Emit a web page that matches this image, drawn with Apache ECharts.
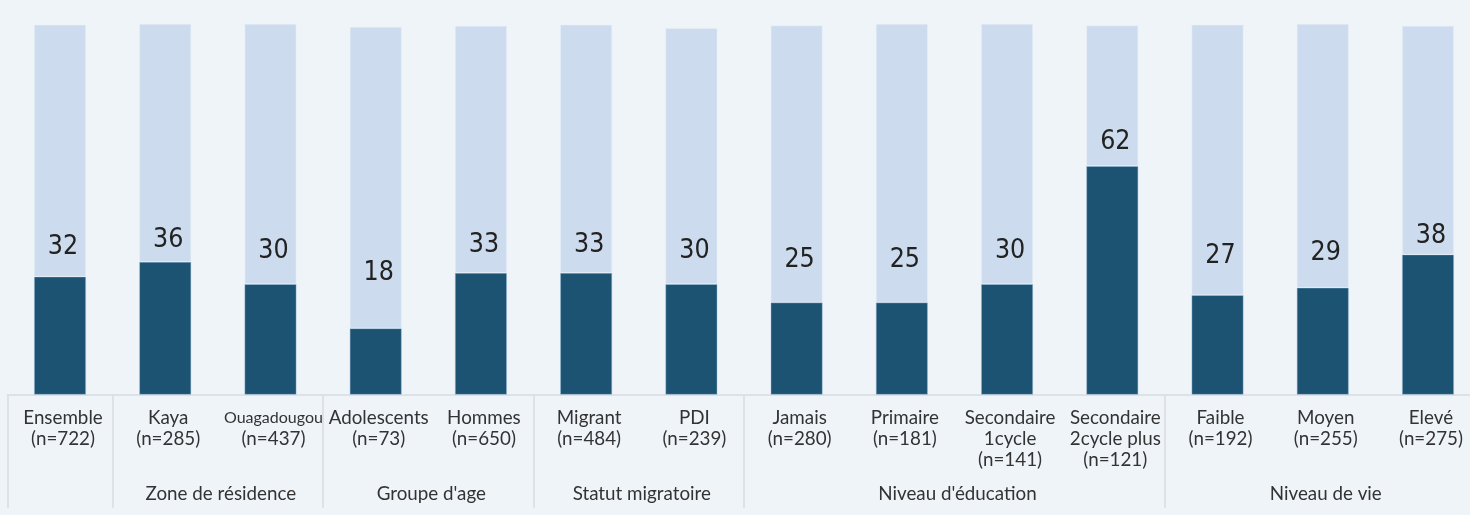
<!DOCTYPE html>
<html>
<head>
<meta charset="utf-8">
<script src="https://cdn.jsdelivr.net/npm/echarts@6/dist/echarts.min.js"></script>
<style>
  html, body { margin: 0; padding: 0; background: #eff4f9; }
  #main { width: 1470px; height: 515px; }
</style>
</head>
<body>
<div id="main"></div>
<script>
// categories, one per bar
var categories = ["Ensemble", "Kaya", "Ouagadougou", "Adolescents", "Hommes", "Migrant", "PDI",
  "Jamais", "Primaire", "Secondaire\n1cycle", "Secondaire\n2cycle plus", "Faible", "Moyen", "Elevé"];
var sampleSizes = [722, 285, 437, 73, 650, 484, 239, 280, 181, 141, 121, 192, 255, 275];
// groups below the categories (name, how many categories)
var groupNames = ["", "Zone de résidence", "Groupe d'age", "Statut migratoire", "Niveau d'éducation", "Niveau de vie"];
var groupSizes = [1, 2, 2, 2, 4, 3];
// % (dark) and remainder (light)
var percentValues = [32, 36, 30, 18, 33, 33, 30, 25, 25, 30, 62, 27, 29, 38];
var restValues = [68.3, 64.5, 70.5, 81.7, 67, 67.3, 69.4, 75.1, 75.5, 70.5, 38.1, 73.3, 71.5, 62];

// group boundaries and centres in category units
var groupEdges = [0];
var groupCentres = [];
groupSizes.forEach(function (n, i) {
  var start = groupEdges[groupEdges.length - 1];
  groupEdges.push(start + n);
  groupCentres.push(start + n / 2);
});

// shrink a category name when it is too wide for its slot
var ctx = document.createElement("canvas").getContext("2d");
ctx.font = "18.8px Lato";
function catLabel(value, idx) {
  var txt = value;
  if (value.indexOf("\n") < 0 && ctx.measureText(value).width > 104) {
    txt = "{s|" + value + "}";
  }
  return txt + "\n(n=" + sampleSizes[idx] + ")";
}

var numFont = "'Liberation Sans Narrow', 'DejaVu Sans Condensed', Roboto, sans-serif";

var myChart = echarts.init(document.getElementById("main"));
var option = {
  animation: false,
  backgroundColor: "#eff4f9",
  grid: {
    left: 7.4,
    right: -10.6,
    top: 22.1,
    bottom: 120.3,
    outerBoundsMode: "none",
  },
  xAxis: [
    {
      type: "category",
      data: categories,
      axisLine: { lineStyle: { color: "#d9dce1", width: 1.5 } },
      axisTick: { show: false },
      axisLabel: {
        interval: 0,
        margin: 13,
        padding: [0, 0, 0, 6],
        fontFamily: "Lato",
        fontSize: 18.8,
        lineHeight: 21,
        color: "#333",
        formatter: catLabel,
        rich: {
          s: { fontFamily: "Lato", fontSize: 16, lineHeight: 21, color: "#333" },
        },
      },
    },
    {
      type: "value",
      min: 0,
      max: categories.length,
      position: "bottom",
      axisLine: { show: false },
      splitLine: { show: false },
      axisTick: {
        show: true,
        customValues: groupEdges,
        length: 113,
        lineStyle: { color: "#d9dce1", width: 1.5 },
      },
      axisLabel: {
        customValues: groupCentres.filter(function (c, i) { return groupNames[i] !== ""; }),
        margin: 90,
        padding: [0, 0, 0, 6],
        fontFamily: "Lato",
        fontSize: 18.8,
        color: "#333",
        formatter: function (v) {
          var i = groupCentres.indexOf(v);
          return i >= 0 ? groupNames[i] : "";
        },
      },
    },
  ],
  yAxis: {
    type: "value",
    min: 0,
    max: 101,
    show: false,
  },
  series: [
    {
      id: "dark",
      name: "%",
      type: "bar",
      stack: "total",
      barWidth: 52,
      itemStyle: {
        color: "#1c5272",
        borderColor: "rgba(150,185,215,0.55)",
        borderWidth: 0.8,
      },
      label: {
        show: true,
        position: "top",
        distance: 0,
        verticalAlign: "middle",
        fontFamily: numFont,
        fontSize: 26.5,
        color: "#222",
      },
      data: percentValues,
    },
    {
      id: "light",
      type: "bar",
      stack: "total",
      barWidth: 52,
      itemStyle: {
        color: "#ccdbed",
        borderColor: "rgba(230,238,248,0.7)",
        borderWidth: 0.8,
      },
      data: restValues,
    },
  ],
};
myChart.setOption(option);

// place each number between the dark top and a fixed level (or just above, for tall bars)
var labelAt = percentValues.map(function (v) {
  return v < 48 ? (v + 48) / 2 : v + 6.5;
});
var darkData = percentValues.map(function (v, i) {
  var dy = myChart.convertToPixel({ yAxisIndex: 0 }, labelAt[i]) - myChart.convertToPixel({ yAxisIndex: 0 }, v);
  return { value: v, label: { offset: [3, dy] } };
});
myChart.setOption({ series: [{ id: "dark", data: darkData }] });
</script>
</body>
</html>
